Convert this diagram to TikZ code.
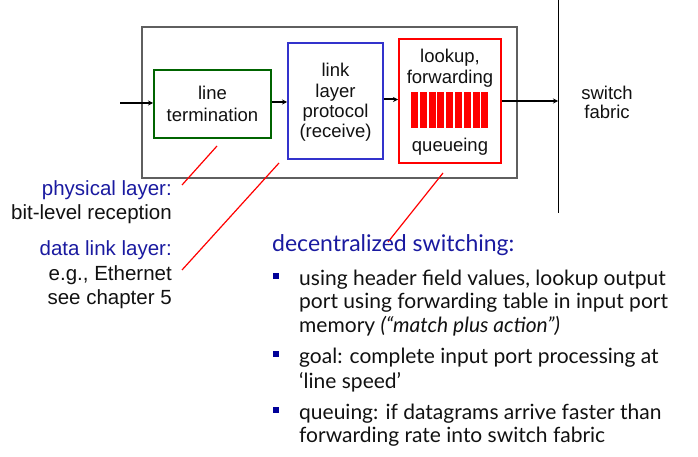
\documentclass[tikz,border=0pt]{standalone}
\usepackage{fontspec}
\setmainfont{Liberation Sans}
\newfontfamily\gillfont{Lato}
\usetikzlibrary{arrows.meta}
\definecolor{labblue}{HTML}{1A1AA0}
\definecolor{boxgreen}{HTML}{006400}
\definecolor{boxblue}{HTML}{3333CC}
\definecolor{outergray}{HTML}{5F5F5F}
\definecolor{bulletblue}{HTML}{000099}
\definecolor{txt}{HTML}{111111}
\begin{document}
\begin{tikzpicture}[x=1pt,y=-1pt,
  box/.style={draw, line width=2pt, inner sep=0pt},
  boxtxt/.style={font=\fontsize{18.5}{20}\selectfont, anchor=base, inner sep=0pt, text=txt},
  sidetxt/.style={font=\fontsize{20.5}{22}\selectfont, anchor=base east, inner sep=0pt},
  rtxt/.style={font=\gillfont\fontsize{21}{23}\selectfont, anchor=base west, inner sep=0pt, text=txt},
  bul/.style={fill=bulletblue, minimum size=6pt, inner sep=0pt},
  arr/.style={line width=2pt, -{Stealth[length=5pt,width=5pt]}},
  leader/.style={draw=red, line width=1.2pt},
  qbar/.style={fill=red, draw=none, minimum width=7pt, minimum height=36pt, inner sep=0pt}
]
\useasboundingbox (0,0) rectangle (698,457);
% outer port box
\node[box, draw=outergray, minimum width=375pt, minimum height=151pt] (port) at (329.5,102.5) {};
% inner boxes
\node[box, draw=boxgreen, minimum width=117pt, minimum height=68pt] (lt) at (212.5,104) {};
\node[box, draw=boxblue, minimum width=95pt, minimum height=116pt] (llp) at (335.5,101) {};
\node[box, draw=red, minimum width=102pt, minimum height=124pt] (lf) at (450,101) {};
% box texts
\node[boxtxt] (t1) at (212.5,100) {line};
\node[boxtxt] (t2) at (212.5,122) {termination};
\node[boxtxt] (t3) at (335.5,77) {link};
\node[boxtxt] (t4) at (335.5,97.5) {layer};
\node[boxtxt] (t5) at (335.5,118) {protocol};
\node[boxtxt] (t6) at (335.5,138) {(receive)};
\node[boxtxt] (t7) at (450,63) {lookup,};
\node[boxtxt] (t8) at (450,84) {forwarding};
\node[boxtxt] (t9) at (450,152) {queueing};
% queue bars
\foreach \i in {0,...,8} {
  \node[qbar] (q\i) at ({414.5+8.8*\i},110) {};
}
% switch fabric
\coordinate (ftop) at (558,0);
\coordinate (fbot) at (558,213);
\draw[line width=1pt] (ftop) -- (fbot);
\coordinate (fin) at (558,101);
\node[boxtxt] (sf1) at (607,100) {switch};
\node[boxtxt] (sf2) at (607,119) {fabric};
% arrows
\coordinate (inp) at (120,103);
\draw[arr] (inp) -- (lt.west |- inp);
\draw[arr] (lt.east |- 0,102) -- (llp.west |- 0,102);
\draw[arr] (llp.east |- 0,99.5) -- (lf.west |- 0,99.5);
\draw[arr] (lf.east |- fin) -- (fin);
% left labels
\node[sidetxt, text=labblue] (pl) at (172,195) {physical layer:};
\node[sidetxt, text=txt] (pl2) at (172,219) {bit-level reception};
\node[sidetxt, text=labblue] (dl) at (172,255) {data link layer:};
\node[sidetxt, text=txt] (dl2) at (172,280) {e.g., Ethernet};
\node[sidetxt, text=txt] (dl3) at (172,304) {see chapter 5};
% leader lines
\coordinate (a1) at (217,146);
\coordinate (a2) at (182,185);
\coordinate (b1) at (279,163);
\coordinate (b2) at (182,270);
\coordinate (c1) at (443,173);
\coordinate (c2) at (388,242);
\draw[leader] (a1) -- (a2);
\draw[leader] (b1) -- (b2);
\draw[leader] (c1) -- (c2);
% right text
\node[rtxt, text=labblue, font=\gillfont\fontsize{23}{25}\selectfont] (ds) at (272,251) {decentralized switching:};
\node[bul] (b1q) at (276,276) {};
\node[rtxt] (r1) at (299,285) {using header field values, lookup output};
\node[rtxt] (r2) at (299,308) {port using forwarding table in input port};
\node[rtxt] (r3) at (299,332) {memory \textit{(“match plus action”)}};
\node[bul] (b2q) at (276,354) {};
\node[rtxt] (r4) at (299,363) {goal: complete input port processing at};
\node[rtxt] (r5) at (299,388) {‘line speed’};
\node[bul] (b3q) at (276,410) {};
\node[rtxt] (r6) at (299,419) {queuing: if datagrams arrive faster than};
\node[rtxt] (r7) at (299,442) {forwarding rate into switch fabric};
\end{tikzpicture}
\end{document}
